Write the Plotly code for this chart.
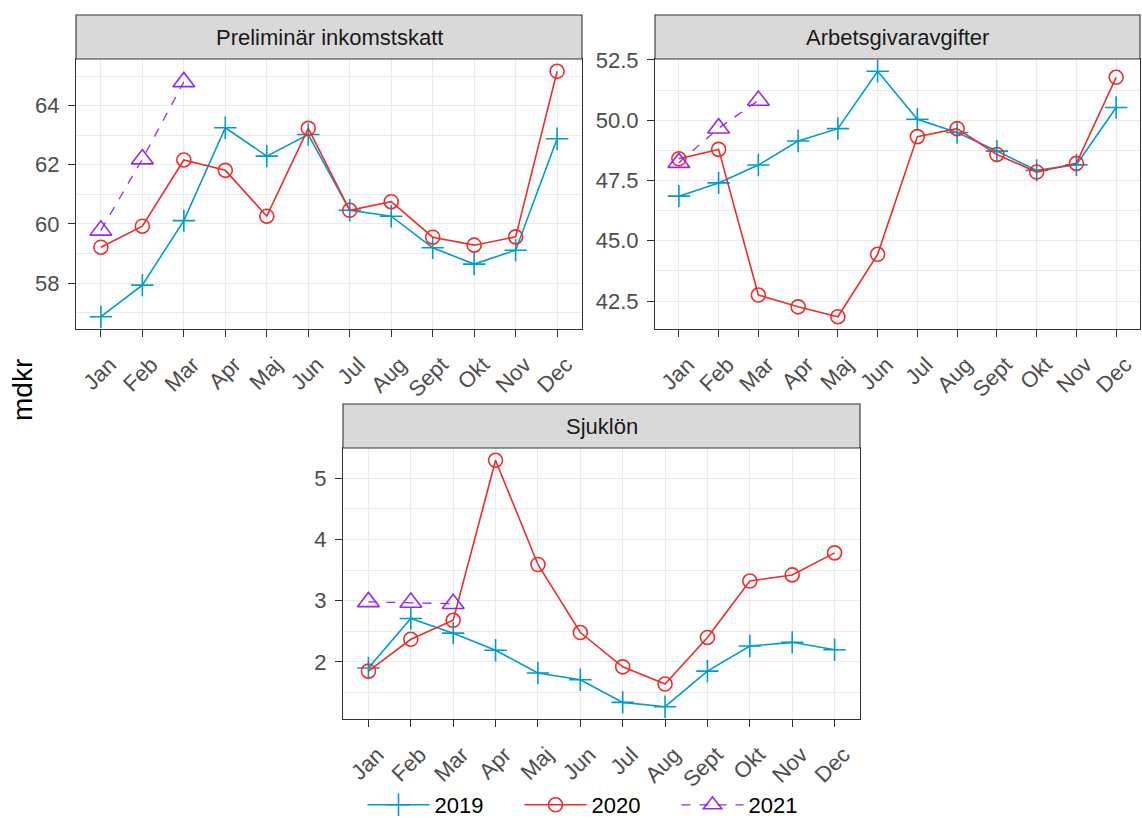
import plotly.graph_objects as go

# Monthly tax receipts (mdkr), 2019-2021
months = ["Jan", "Feb", "Mar", "Apr", "Maj", "Jun", "Jul", "Aug", "Sept", "Okt", "Nov", "Dec"]

ink_2019 = [56.86, 57.93, 60.11, 63.25, 62.29, 63.02, 60.46, 60.26, 59.19, 58.64, 59.11, 62.88]
ink_2020 = [59.21, 59.92, 62.16, 61.81, 60.26, 63.23, 60.46, 60.75, 59.55, 59.28, 59.56, 65.16]
ink_2021 = [59.78, 62.19, 64.80]

arb_2019 = [46.85, 47.40, 48.14, 49.14, 49.65, 52.03, 50.04, 49.49, 48.72, 47.92, 48.15, 50.53]
arb_2020 = [48.40, 48.79, 42.75, 42.26, 41.85, 44.44, 49.32, 49.65, 48.58, 47.85, 48.21, 51.78]
arb_2021 = [48.24, 49.67, 50.82]

sjuk_2019 = [1.90, 2.71, 2.47, 2.19, 1.82, 1.71, 1.34, 1.27, 1.85, 2.26, 2.32, 2.20]
sjuk_2020 = [1.85, 2.37, 2.68, 5.29, 3.59, 2.48, 1.92, 1.64, 2.40, 3.32, 3.42, 3.78]
sjuk_2021 = [2.98, 2.97, 2.95]

panel_titles = ["Preliminär inkomstskatt", "Arbetsgivaravgifter", "Sjuklön"]
years = ["2019", "2020", "2021"]

W, H = 1142, 818
FONT = "Liberation Sans, Arial, sans-serif"
GRID = "#EBEBEB"
DARK = "#333333"

styles = {
    "2019": dict(color="#009ACD", symbol="cross-thin", size=16, dash="solid", lw=1.6),
    "2020": dict(color="#EE2C2C", symbol="circle-open", size=14, dash="solid", lw=1.6),
    "2021": dict(color="#912CEE", symbol="triangle-up-open", size=19, dash="dash", lw=1.3),
}

panels = [
    dict(data=[ink_2019, ink_2020, ink_2021], px=(76, 582), py=(59, 329), strip=15,
         dtick=2, minor=1, fmt="d"),
    dict(data=[arb_2019, arb_2020, arb_2021], px=(655, 1140), py=(59, 329), strip=15,
         dtick=2.5, minor=1.25, fmt=".1f"),
    dict(data=[sjuk_2019, sjuk_2020, sjuk_2021], px=(343, 860), py=(448, 719), strip=404,
         dtick=1, minor=0.5, fmt="d"),
]


def fx(p):
    return p / W


def fy(p):
    return 1 - p / H


fig = go.Figure()
shapes = []
annotations = []

for i, pan in enumerate(panels):
    n = i + 1
    xa = "x" if n == 1 else f"x{n}"
    ya = "y" if n == 1 else f"y{n}"
    for yr, vals in zip(years, pan["data"]):
        st = styles[yr]
        fig.add_trace(go.Scatter(
            x=months[:len(vals)], y=vals, xaxis=xa, yaxis=ya,
            mode="lines+markers", name=yr, legendgroup=yr, showlegend=(n == 1),
            line=dict(color=st["color"], width=st["lw"], dash=st["dash"]),
            marker=dict(symbol=st["symbol"], size=st["size"], color=st["color"],
                        line=dict(color=st["color"], width=1.6)),
            cliponaxis=False,
        ))

    allv = [v for s in pan["data"] for v in s]
    lo, hi = min(allv), max(allv)
    pad = 0.05 * (hi - lo)

    fig.layout[f"xaxis{'' if n == 1 else n}"] = dict(
        domain=[fx(pan["px"][0]), fx(pan["px"][1])], anchor=ya,
        type="category", categoryorder="array", categoryarray=months,
        range=[-0.6, 11.6], showgrid=True, gridcolor=GRID, gridwidth=1.1,
        showline=True, linecolor=DARK, linewidth=1.1, mirror=True,
        ticks="outside", ticklen=7, tickwidth=1.1, tickcolor=DARK,
        tickangle=-45, ticklabelshift=9, ticklabelstandoff=6,
        tickfont=dict(family=FONT, size=22, color="#4D4D4D"),
        zeroline=False, automargin=False,
    )
    fig.layout[f"yaxis{'' if n == 1 else n}"] = dict(
        domain=[fy(pan["py"][1]), fy(pan["py"][0])], anchor=xa,
        range=[lo - pad, hi + pad], tickmode="linear", tick0=0, dtick=pan["dtick"],
        tickformat=pan["fmt"],
        showgrid=True, gridcolor=GRID, gridwidth=1.1,
        minor=dict(tickmode="linear", tick0=0, dtick=pan["minor"], showgrid=True,
                   gridcolor=GRID, gridwidth=0.6, ticks=""),
        showline=True, linecolor=DARK, linewidth=1.1, mirror=True,
        ticks="outside", ticklen=7, tickwidth=1.1, tickcolor=DARK,
        ticklabelstandoff=4,
        tickfont=dict(family=FONT, size=22, color="#4D4D4D"),
        zeroline=False, automargin=False,
    )

    # facet strip
    shapes.append(dict(type="rect", xref="paper", yref="paper",
                       x0=fx(pan["px"][0]), x1=fx(pan["px"][1]),
                       y0=fy(pan["py"][0]), y1=fy(pan["strip"]),
                       fillcolor="#D9D9D9", line=dict(color=DARK, width=1.1), layer="above"))
    annotations.append(dict(text=panel_titles[i], xref="paper", yref="paper",
                            x=fx((pan["px"][0] + pan["px"][1]) / 2),
                            y=fy((pan["py"][0] + pan["strip"]) / 2),
                            showarrow=False, xanchor="center", yanchor="middle",
                            font=dict(family=FONT, size=22, color="#1A1A1A")))

annotations.append(dict(text="mdkr", xref="paper", yref="paper", x=fx(23), y=fy(390),
                        textangle=-90, showarrow=False, xanchor="center", yanchor="middle",
                        font=dict(family=FONT, size=28, color="black")))

fig.update_layout(
    template="none",
    width=W, height=H,
    margin=dict(l=0, r=0, t=0, b=0, autoexpand=False),
    paper_bgcolor="white", plot_bgcolor="white",
    font=dict(family=FONT),
    shapes=shapes, annotations=annotations,
    legend=dict(orientation="h", x=fx(598), xanchor="center", y=fy(805), yanchor="middle",
                font=dict(family=FONT, size=22, color="black"),
                bgcolor="rgba(0,0,0,0)", itemwidth=62, entrywidth=80,
                entrywidthmode="pixels", tracegroupgap=0),
)

fig.write_html("out.html")
